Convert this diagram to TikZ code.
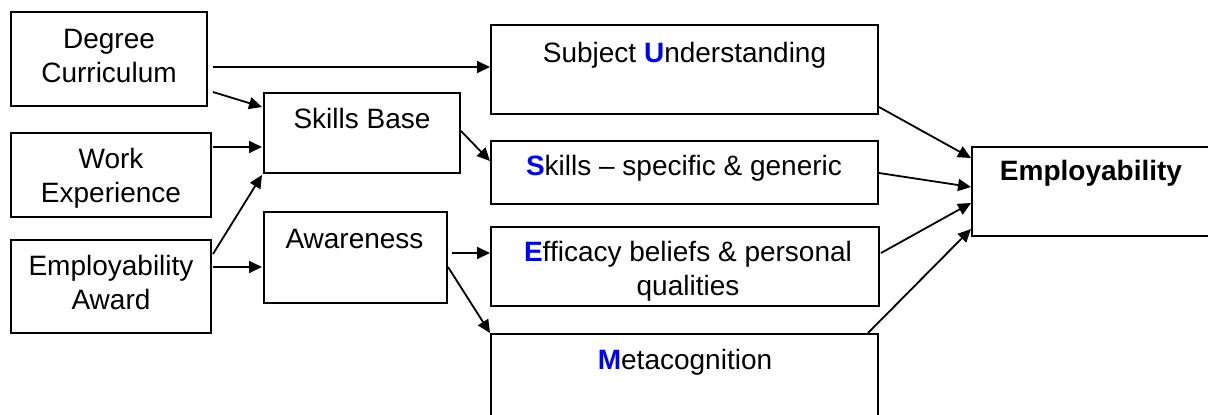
\documentclass[tikz,border=0pt]{standalone}
\usepackage{fontspec}
\setmainfont{Liberation Sans}
\usetikzlibrary{calc,arrows.meta}
\definecolor{keyblue}{RGB}{0,0,255}
\newcommand{\kl}[1]{\textbf{\textcolor{keyblue}{#1}}}
\begin{document}
\begin{tikzpicture}[x=0.5pt,y=-0.5pt,
  box/.style={draw=black,line width=1pt,inner sep=0pt,rectangle},
  txt/.style={anchor=base,align=center,inner sep=0pt,font=\fontsize{14pt}{17pt}\selectfont},
  arr/.style={line width=0.9pt,-{Triangle[length=6.5pt,width=6pt]}}]
\clip (0,0) rectangle (1208,414);
% boxes
\node[box,minimum width=98pt,minimum height=47pt] (dc) at (109,59) {};
\node[box,minimum width=100pt,minimum height=42pt] (we) at (111,175) {};
\node[box,minimum width=100pt,minimum height=46.5pt] (ea) at (111,286.5) {};
\node[box,minimum width=98pt,minimum height=40pt] (sb) at (362,133) {};
\node[box,minimum width=91.5pt,minimum height=45.5pt] (aw) at (355.5,257.5) {};
\node[box,minimum width=193.5pt,minimum height=44.5pt] (su) at (684.5,69.5) {};
\node[box,minimum width=193.5pt,minimum height=31.5pt] (sk) at (684.5,172.5) {};
\node[box,minimum width=194pt,minimum height=39.5pt] (ef) at (685,266.5) {};
\node[box,minimum width=193.5pt,minimum height=63pt] (mc) at (684.5,397) {};
\node[box,minimum width=144pt,minimum height=44.5pt] (em) at (1116,191.5) {};
% texts (anchor base = last line's baseline)
\node[txt] (tdc) at (109,82) {Degree\\Curriculum};
\node[txt] (twe) at (111,202) {Work\\Experience};
\node[txt] (tea) at (111,309) {Employability\\Award};
\node[txt] (tsb) at (362,128) {Skills Base};
\node[txt] (taw) at (354.5,248) {Awareness};
\node[txt] (tsu) at (684.5,62) {Subject \kl{U}nderstanding};
\node[txt] (tsk) at (684,175) {\kl{S}kills – specific \& generic};
\node[txt] (tef) at (688,295) {\kl{E}fficacy beliefs \& personal\\qualities};
\node[txt] (tmc) at (685,369) {\kl{M}etacognition};
\node[txt,font=\fontsize{14pt}{17pt}\selectfont\bfseries] (tem) at (1091,180) {Employability};
% connectors
\draw[arr] ($(dc.east)+(5,8)$) -- ($(su.west)+(0,-2.5)$);
\draw[arr] ($(dc.east)+(5,33)$) -- ($(sb.west)+(-1,-26)$);
\draw[arr] ($(we.east)+(1,-28)$) -- ($(sb.west)+(-1,14)$);
\draw[arr] ($(ea.east)+(1,-32.5)$) -- ($(sb.south west)+(-1,1)$);
\draw[arr] ($(ea.east)+(1,-19.5)$) -- ($(aw.west)+(-1,9.5)$);
\draw[arr] ($(sb.east)+(0,-2)$) -- ($(sk.west)+(0,-11.5)$);
\draw[arr] ($(aw.east)+(4,-4.5)$) -- ($(ef.west)+(0,-13.5)$);
\draw[arr] ($(aw.east)+(0,9.5)$) -- (mc.north west);
\draw[arr] ($(su.east)+(0,37.5)$) -- ($(em.west)+(0,-33.5)$);
\draw[arr] ($(sk.east)+(0,0.5)$) -- ($(em.west)+(0,-4.5)$);
\draw[arr] ($(ef.east)+(1,-13.5)$) -- ($(em.west)+(0,11.5)$);
\draw[arr] ($(mc.north east)+(-11,0)$) -- ($(em.west)+(0,37.5)$);
\end{tikzpicture}
\end{document}
